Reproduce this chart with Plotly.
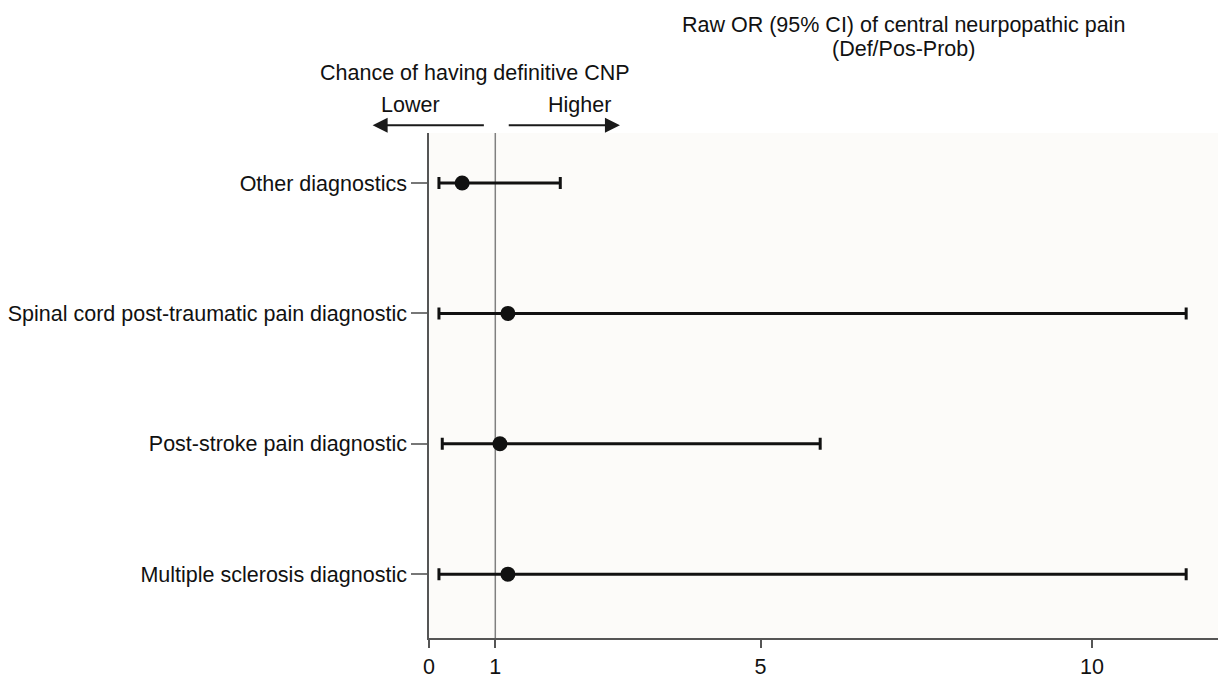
import plotly.graph_objects as go

# Data
categories = ["Multiple sclerosis diagnostic",
              "Post-stroke pain diagnostic",
              "Spinal cord post-traumatic pain diagnostic",
              "Other diagnostics"]
odds_ratio = [1.19, 1.07, 1.19, 0.50]
ci_lower = [0.15, 0.20, 0.15, 0.15]
ci_upper = [11.42, 5.90, 11.42, 1.98]
x_tick_vals = [0, 1, 5, 10]
x_tick_text = ["0", "1", "5", "10"]

FONT = "Liberation Sans, Arial, sans-serif"
FS = 21.5
INK = "#111111"

err_plus = [u - o for u, o in zip(ci_upper, odds_ratio)]
err_minus = [o - l for o, l in zip(odds_ratio, ci_lower)]

fig = go.Figure()
fig.add_trace(go.Scatter(
    x=odds_ratio, y=categories, mode="markers",
    marker=dict(size=15, color=INK),
    error_x=dict(type="data", symmetric=False, array=err_plus, arrayminus=err_minus,
                 color=INK, thickness=3, width=6),
    showlegend=False, hoverinfo="skip",
))

# reference line at OR = 1
fig.add_shape(type="line", xref="x", yref="paper", x0=1, x1=1, y0=0, y1=1,
              line=dict(color="#808080", width=1.5), layer="below")

W, H = 1220, 681
ml, mt = 429, 133
plot_right, plot_bottom = 1218, 647
mr, mb = W - plot_right, H - plot_bottom
pw, ph = plot_right - ml, plot_bottom - mt

def px_x(p):
    return (p - ml) / pw

def px_y(p):
    return (plot_bottom - p) / ph

ann = []
ann.append(dict(text="Raw OR (95% CI) of central neurpopathic pain", x=px_x(903), y=px_y(23)))
ann.append(dict(text="(Def/Pos-Prob)", x=px_x(903), y=px_y(47)))
ann.append(dict(text="Chance of having definitive CNP", x=px_x(475), y=px_y(72)))
ann.append(dict(text="Lower", x=px_x(410), y=px_y(105)))
ann.append(dict(text="Higher", x=px_x(579), y=px_y(105)))
annotations = []
for a in ann:
    annotations.append(dict(a, xref="paper", yref="paper", showarrow=False,
                            xanchor="center", yanchor="middle",
                            font=dict(family=FONT, size=FS, color=INK)))

arrow_y = px_y(125)
annotations.append(dict(xref="x", yref="paper", x=-0.85, y=arrow_y,
                        axref="x", ax=0.85, ayref="pixel", ay=0, text="",
                        showarrow=True, arrowhead=2, arrowsize=1.5, arrowwidth=2,
                        arrowcolor="#1a1a1a"))
annotations.append(dict(xref="x", yref="paper", x=2.88, y=arrow_y,
                        axref="x", ax=1.18, ayref="pixel", ay=0, text="",
                        showarrow=True, arrowhead=2, arrowsize=1.5, arrowwidth=2,
                        arrowcolor="#1a1a1a"))

fig.update_layout(
    width=W, height=H,
    margin=dict(l=ml, r=mr, t=mt, b=mb, pad=0),
    paper_bgcolor="white", plot_bgcolor="#fcfbf9",
    font=dict(family=FONT, size=FS, color=INK),
    annotations=annotations,
    xaxis=dict(range=[0, 11.9], tickvals=x_tick_vals, ticktext=x_tick_text,
               showgrid=False, zeroline=False, showline=True, linecolor="#555555",
               linewidth=1.5, ticks="outside", ticklen=8, tickcolor="#555555",
               tickwidth=1.5, tickfont=dict(family=FONT, size=FS, color=INK)),
    yaxis=dict(type="category", categoryorder="array", categoryarray=categories,
               range=[-0.49, 3.384], showgrid=False, zeroline=False, showline=True,
               linecolor="#555555", linewidth=1.5, ticks="outside", ticklen=16,
               tickcolor="#777777", tickwidth=1.5,
               tickfont=dict(family=FONT, size=FS, color=INK)),
)

fig.write_html("out.html",
               config={"displayModeBar": False},
               post_script="document.body.style.margin='0';document.body.style.overflow='hidden';")
